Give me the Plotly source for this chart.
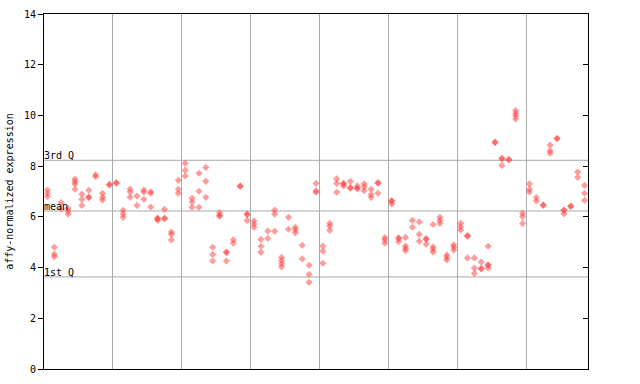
import plotly.graph_objects as go

# expression values per sample (79 samples, in plotting order)
expression_by_sample = [
    [7.06, 6.93, 6.80], [4.80, 4.53, 4.43], [6.56, 6.32], [6.34, 6.23, 6.11],
    [7.49, 7.39, 7.30, 7.09], [6.90, 6.69, 6.45], [7.05, 6.76, 6.78], [7.66, 7.58],
    [6.93, 6.77, 6.66], [7.28, 7.26], [7.33, 7.35], [6.26, 6.11, 5.98],
    [7.10, 6.99, 6.78], [6.82, 6.45], [7.06, 6.98, 6.69], [6.99, 6.93, 6.39],
    [5.93, 5.86, 5.95], [6.30, 5.93, 5.95], [5.40, 5.31, 5.09], [7.44, 7.09, 6.93],
    [8.11, 7.84, 7.61], [6.73, 6.59, 6.38], [7.72, 7.01, 6.38], [7.95, 7.40, 6.77],
    [4.80, 4.52, 4.26], [6.16, 6.03, 6.05], [4.59, 4.26, 4.61], [5.09, 4.96],
    [7.20, 7.22], [6.09, 5.86, 6.11], [5.84, 5.72, 5.59], [5.11, 4.84, 4.60],
    [5.44, 5.15], [6.27, 6.11, 5.43], [4.40, 4.27, 4.15, 4.03], [5.98, 5.51],
    [5.59, 5.49, 5.37], [4.88, 4.34], [4.09, 3.73, 3.42], [7.32, 7.03, 6.97],
    [4.85, 4.65, 4.17], [5.74, 5.64, 5.47], [7.50, 7.32, 6.97], [7.32, 7.22, 7.30],
    [7.40, 7.15, 7.13], [7.22, 7.11, 7.13], [7.30, 7.18, 7.03], [7.09, 6.88, 6.77],
    [7.35, 6.93, 7.33], [5.18, 5.09, 4.96], [6.64, 6.51, 6.62], [5.17, 5.02, 5.15],
    [5.19, 4.85, 4.76, 4.67], [5.86, 5.59], [5.80, 5.31, 5.04], [5.14, 4.92, 5.12],
    [5.70, 4.82, 4.72, 4.61], [5.98, 5.86, 5.74], [4.50, 4.40, 4.30], [4.90, 4.80, 4.69],
    [5.75, 5.61, 5.48], [5.26, 4.38, 5.24], [4.38, 3.98, 3.77], [4.22, 3.95, 3.97],
    [4.84, 4.11, 3.98, 4.09], [8.95, 8.93], [8.29, 8.03, 8.31], [8.27, 8.25],
    [10.19, 10.08, 9.98, 9.86], [6.14, 6.01, 5.74], [7.30, 7.09, 6.98], [6.76, 6.63],
    [6.47, 6.45], [8.83, 8.61, 8.51], [9.10, 9.08], [6.27, 6.12, 6.25],
    [6.43, 6.41], [7.77, 7.56], [7.24, 6.93, 6.65],
]

q1_value = 3.63
mean_value = 6.23
q3_value = 8.23
stat_labels = ["1st Q", "mean", "3rd Q"]
stat_values = [q1_value, mean_value, q3_value]

y_ticks = [0, 2, 4, 6, 8, 10, 12, 14]
group_boundaries = [10, 20, 30, 40, 50, 60, 70]

xs, ys = [], []
for i, vals in enumerate(expression_by_sample):
    for v in vals:
        xs.append(i + 0.5)
        ys.append(v)

n = len(expression_by_sample)
font = dict(family="DejaVu Sans Mono", size=10, color="black")

fig = go.Figure()
fig.add_trace(go.Scatter(
    x=xs, y=ys, mode="markers",
    marker=dict(symbol="diamond", size=5.5, color="rgba(255,60,60,0.5)", line=dict(width=0)),
    showlegend=False, hoverinfo="skip"))
fig.add_trace(go.Scatter(x=[0], y=[0], yaxis="y2", mode="markers",
                         marker=dict(opacity=0), showlegend=False, hoverinfo="skip"))

for lab, val in zip(stat_labels, stat_values):
    fig.add_shape(type="line", xref="x", yref="y", x0=0, x1=n, y0=val, y1=val,
                  line=dict(color="#aaaaaa", width=1), layer="below")
    fig.add_annotation(x=0, y=val, xref="x", yref="y", text=lab, showarrow=False,
                       xanchor="left", yanchor="bottom", xshift=-2, yshift=-3, font=font)

fig.update_layout(
    width=640, height=384,
    margin=dict(l=44, r=52, t=14, b=15, autoexpand=False),
    paper_bgcolor="white", plot_bgcolor="white",
    font=font,
    xaxis=dict(range=[0, n], tickvals=group_boundaries, showticklabels=False, ticks="",
               showgrid=True, gridcolor="#aaaaaa", gridwidth=1, zeroline=False,
               showline=True, linecolor="black", linewidth=1, mirror=True,
               automargin=False),
    yaxis=dict(range=[0, 14], tickvals=y_ticks, ticks="outside", ticklen=5,
               tickcolor="black", showgrid=False, zeroline=False,
               showline=True, linecolor="black", linewidth=1, mirror=True,
               automargin=False,
               title=dict(text="affy-normalized expression", font=font, standoff=8),
               tickfont=font),
    yaxis2=dict(range=[0, 14], tickvals=y_ticks, overlaying="y", side="right",
                ticks="inside", ticklen=5, tickcolor="black", showticklabels=False,
                showgrid=False, zeroline=False, showline=False, automargin=False),
)

fig.write_html("out.html")
